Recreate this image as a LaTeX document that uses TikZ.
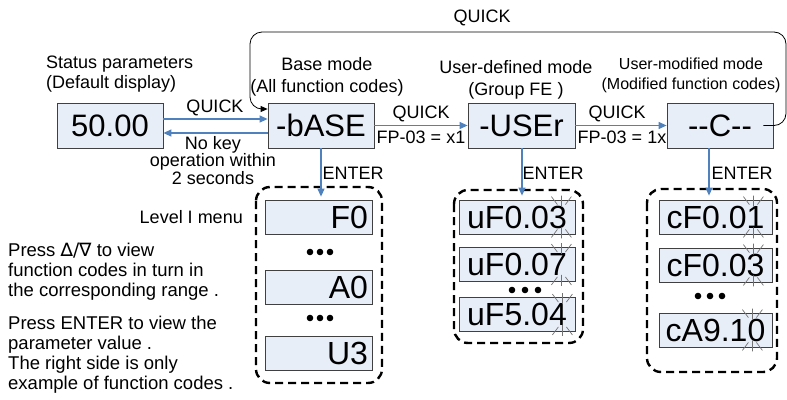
\documentclass[tikz,border=0pt]{standalone}
\usepackage{fontspec}
\setmainfont{Liberation Sans}
\newfontfamily\symbolfont{DejaVu Sans}
\usetikzlibrary{arrows.meta, calc}

\definecolor{panelfill}{HTML}{E8EEF8}
\definecolor{arrowblue}{HTML}{4F81BD}
\definecolor{edgegray}{HTML}{404040}

% blinking marks round the last digit of a menu entry
\newcommand{\blinkmarks}[2]{%
  \begin{scope}[shift={($(#1.north east)+(-#2,0)$)}]
    \draw[blink] (-10,-3) -- (-4,5) (0,-4) -- (0,7) (10,-3) -- (4,5);
  \end{scope}
  \begin{scope}[shift={($(#1.south east)+(-#2,0)$)}]
    \draw[blink] (-10,3) -- (-4,-5) (0,4) -- (0,-7) (10,3) -- (4,-5);
  \end{scope}}

\begin{document}
\begin{tikzpicture}[
    x=1pt, y=-1pt,
    every node/.style={font=\fontsize{18}{21}\selectfont, inner sep=0pt},
    mode box/.style={draw=edgegray, fill=panelfill, line width=0.8pt, minimum width=106pt, minimum height=45pt, font=\fontsize{31}{31}\selectfont},
    menu entry/.style={draw=edgegray, fill=panelfill, line width=0.8pt, minimum height=34pt, font=\fontsize{32}{32}\selectfont},
    level one/.style={text width=99pt, align=right, inner xsep=4pt},
    key arrow/.style={-{Triangle[length=8pt, width=7pt]}, arrowblue, line width=1.2pt},
    menu frame/.style={dash pattern=on 8pt off 5pt, line width=2.4pt, rounded corners=14pt},
    blink/.style={black!55, line width=0.7pt},
    hint/.style={anchor=west, align=left, font=\fontsize{18.5}{20}\selectfont}
]
    \useasboundingbox (0,0) rectangle (787,399);

    % Mode displays
    \node[mode box] (status) at (110,125.5) {50.00};
    \node[mode box] (base) at (321,125.5) {-bASE};
    \node[mode box, minimum width=107pt] (user) at (521.5,125.5) {-USEr};
    \node[mode box] (modified) at (720,125.5) {{-}{-}C{-}{-}};

    % Mode captions
    \node[anchor=west, align=left, font=\fontsize{18}{20}\selectfont] (statuscap) at (46,74) {Status parameters\\(Default display)};
    \node[align=center, font=\fontsize{18}{22}\selectfont] (basecap) at (327,77) {Base mode\\(All function codes)};
    \node[align=center, font=\fontsize{18}{22}\selectfont] (usercap) at (516,80) {User-defined mode\\(Group FE )};
    \node[align=center, font=\fontsize{16}{20}\selectfont] (modcap) at (691,75) {User-modified mode\\(Modified function codes)};

    % QUICK switching
    \draw[key arrow] ([yshift=6.5pt]status.east) -- ([yshift=6.5pt]base.west);
    \draw[key arrow] ([yshift=-7.5pt]base.west) -- ([yshift=-7.5pt]status.east);
    \draw[key arrow] (base) -- (user);
    \draw[key arrow] (user) -- (modified);
    \node (quick1) at (215,108) {QUICK};
    \node[align=center, font=\fontsize{18}{16.5}\selectfont] (nokey) at (213,160.5) {No key\\operation within\\2 seconds};
    \node (quick2) at (421,114) {QUICK};
    \node (fpx1) at (421,137) {FP-03 = x1};
    \node (quick3) at (617,114) {QUICK};
    \node (fp1x) at (622,137) {FP-03 = 1x};

    % Return loop
    \coordinate (loopstart) at ([xshift=-10pt]modified.east);
    \draw[line width=0.8pt, rounded corners=12pt, -{Triangle[length=7pt, width=6pt]}]
        (loopstart) -- (786,125.5) -- (786,32) -- (250,32) -- (250,109) -- ([yshift=16.5pt]base.west);
    \node (quick4) at (482,18) {QUICK};

    % Level I menus
    \draw[menu frame] (256,187) rectangle (382,383);
    \draw[menu frame] (454,190) rectangle (583,343);
    \draw[menu frame] (647,189) rectangle (777,372);

    \node[menu entry, level one] (baseF) at (318.5,217) {F0};
    \node[menu entry, level one] (baseA) at (318.5,287.5) {A0};
    \node[menu entry, level one] (baseU) at (318.5,353) {U3};
    \foreach \k in {-10,0,10} {
        \fill (320+\k,252) circle (3.3);
        \fill (320+\k,318) circle (3.3);
    }

    \node[menu entry, minimum width=116pt] (userA) at (517,217) {uF0.03};
    \node[menu entry, minimum width=116pt] (userB) at (517,264.5) {uF0.07};
    \node[menu entry, minimum width=116pt] (userC) at (517,314.5) {uF5.04};
    \foreach \k in {-13,0,13} \fill (525+\k,290) circle (3.3);

    \node[menu entry, minimum width=113pt] (modA) at (715.5,217) {cF0.01};
    \node[menu entry, minimum width=113pt] (modB) at (715.5,265) {cF0.03};
    \node[menu entry, minimum width=113pt] (modC) at (715.5,330) {cA9.10};
    \foreach \k in {-12,0,12} \fill (710+\k,296) circle (3.3);

    \blinkmarks{userA}{14}
    \blinkmarks{userB}{14}
    \blinkmarks{userC}{13}
    \blinkmarks{modA}{19}
    \blinkmarks{modB}{19}
    \blinkmarks{modC}{20}

    % ENTER into the menus
    \draw[key arrow] (base.south) -- ($(base.south |- baseF.north)+(0,-3)$);
    \draw[key arrow] ([xshift=0.5pt]user.south) -- ($([xshift=0.5pt]user.south |- userA.north)+(0,-4)$);
    \coordinate (modenter) at ([xshift=-11pt]modified.south);
    \draw[key arrow] (modenter) -- ($(modenter |- modA.north)+(0,-4)$);
    \node (enter1) at (353,173) {ENTER};
    \node (enter2) at (553,173) {ENTER};
    \node (enter3) at (742,173) {ENTER};

    % Hints on the left
    \node[anchor=east] (levelone) at (243,217) {Level I menu};
    \node[hint] (hintscroll) at (8,272) {Press {\symbolfont ∆/∇} to view\\function codes in turn in\\the corresponding range .};
    \node[hint] (hintenter) at (8,355) {Press ENTER to view the\\parameter value .\\The right side is only\\example of function codes .};
\end{tikzpicture}
\end{document}
